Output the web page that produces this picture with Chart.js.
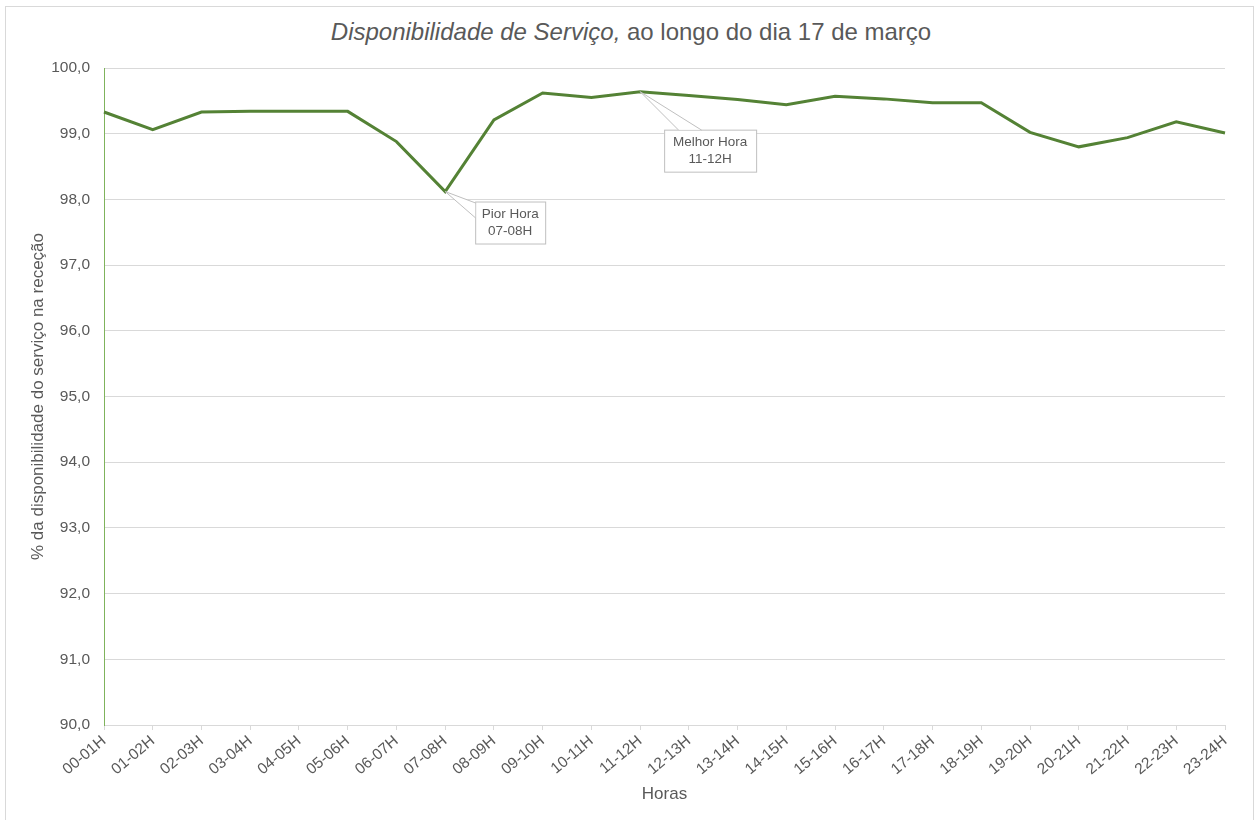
<!DOCTYPE html>
<html>
<head>
<meta charset="utf-8">
<script src="https://cdn.jsdelivr.net/npm/chart.js@4.4.1/dist/chart.umd.min.js"></script>
<style>
  body { margin: 0; background: #fff; font-family: "Liberation Sans", Arial, sans-serif; }
  #wrap { position: relative; width: 1258px; height: 820px; overflow: hidden; }
  #frame { position: absolute; left: 5px; top: 6px; width: 1249px; height: 830px; border: 1px solid #d9d9d9; box-sizing: border-box; }
  #titulo { position: absolute; left: 0; top: 18px; width: 1262px; text-align: center; font-size: 24px; color: #595959; }
  canvas { position: absolute; left: 0; top: 0; }
</style>
</head>
<body>
<div id="wrap">
  <div id="frame"></div>
  <div id="titulo"><i>Disponibilidade de Serviço,</i> ao longo do dia 17 de março</div>
  <canvas id="grafico" width="1258" height="820"></canvas>
</div>
<script>
// dados
const horas = ['00-01H', '01-02H', '02-03H', '03-04H', '04-05H', '05-06H', '06-07H', '07-08H',
  '08-09H', '09-10H', '10-11H', '11-12H', '12-13H', '13-14H', '14-15H', '15-16H',
  '16-17H', '17-18H', '18-19H', '19-20H', '20-21H', '21-22H', '22-23H', '23-24H'];
const disponibilidade = [99.33, 99.06, 99.33, 99.34, 99.34, 99.34, 98.88, 98.12,
  99.21, 99.62, 99.55, 99.64, 99.58, 99.52, 99.44, 99.57,
  99.53, 99.47, 99.47, 99.02, 98.80, 98.94, 99.18, 99.01];
const yTicks = [90, 91, 92, 93, 94, 95, 96, 97, 98, 99, 100];
const notas = [
  { idx: 7, linhas: ['Pior Hora', '07-08H'] },
  { idx: 11, linhas: ['Melhor Hora', '11-12H'] }
];

const cinza = '#595959';
const fonte = '"Liberation Sans", Arial, sans-serif';

// caixas de anotação tipo "callout" do Excel
const anotacoes = {
  id: 'anotacoes',
  afterDatasetsDraw(chart) {
    const ctx = chart.ctx;
    const meta = chart.getDatasetMeta(0);
    notas.forEach((n, k) => {
      const p = meta.data[n.idx];
      let box, cunha;
      if (k === 0) {
        box = { x: p.x + 30, y: p.y + 10, w: 70, h: 42 };
        cunha = [[box.x, box.y + 1], [box.x, box.y + 16]];
      } else {
        box = { x: p.x + 24, y: p.y + 38, w: 92, h: 42 };
        cunha = [[box.x + 14, box.y], [box.x + 37, box.y]];
      }
      ctx.save();
      ctx.fillStyle = '#fff';
      ctx.strokeStyle = '#bfbfbf';
      ctx.lineWidth = 1;
      ctx.fillRect(box.x, box.y, box.w, box.h);
      ctx.strokeRect(box.x + 0.5, box.y + 0.5, box.w, box.h);
      ctx.beginPath();
      ctx.moveTo(cunha[0][0], cunha[0][1]);
      ctx.lineTo(p.x, p.y);
      ctx.lineTo(cunha[1][0], cunha[1][1]);
      ctx.closePath();
      ctx.fill();
      ctx.beginPath();
      ctx.moveTo(cunha[0][0] + 0.5, cunha[0][1] + 0.5);
      ctx.lineTo(p.x, p.y);
      ctx.lineTo(cunha[1][0] + 0.5, cunha[1][1] + 0.5);
      ctx.stroke();
      ctx.fillStyle = cinza;
      ctx.font = '13.5px ' + fonte;
      ctx.textAlign = 'center';
      ctx.textBaseline = 'middle';
      ctx.fillText(n.linhas[0], box.x + box.w / 2, box.y + 13);
      ctx.fillText(n.linhas[1], box.x + box.w / 2, box.y + 30);
      ctx.restore();
    });
  }
};

new Chart(document.getElementById('grafico').getContext('2d'), {
  type: 'line',
  data: {
    labels: horas,
    datasets: [{
      data: disponibilidade,
      borderColor: '#548235',
      borderWidth: 3,
      pointRadius: 0,
      tension: 0,
      fill: false
    }]
  },
  options: {
    responsive: false,
    animation: false,
    layout: { padding: { top: 68, left: 28, right: 33, bottom: 15 } },
    plugins: {
      legend: { display: false },
      tooltip: { enabled: false }
    },
    scales: {
      x: {
        afterFit: s => { s.height = 80; },
        grid: { drawOnChartArea: false, drawTicks: true, tickLength: 5, color: '#d9d9d9' },
        border: { color: '#d9d9d9' },
        ticks: { color: cinza, font: { family: fonte, size: 15.5 }, minRotation: 40, maxRotation: 40, padding: 2, autoSkip: false },
        title: { display: true, text: 'Horas', color: cinza, font: { family: fonte, size: 17 }, padding: { top: 0, bottom: 0 } }
      },
      y: {
        min: 90,
        max: 100,
        afterFit: s => { s.width = 76; },
        afterBuildTicks: s => { s.ticks = yTicks.map(v => ({ value: v })); },
        grid: { color: '#d9d9d9', drawTicks: false },
        border: { color: '#7fb35c' },
        ticks: {
          color: cinza,
          font: { family: fonte, size: 15.5 },
          padding: 14,
          callback: v => v.toFixed(1).replace('.', ',')
        },
        title: { display: true, text: '% da disponibilidade do serviço na receção', color: cinza, font: { family: fonte, size: 17 }, padding: { top: 0, bottom: 4 } }
      }
    }
  },
  plugins: [anotacoes]
});
</script>
</body>
</html>
